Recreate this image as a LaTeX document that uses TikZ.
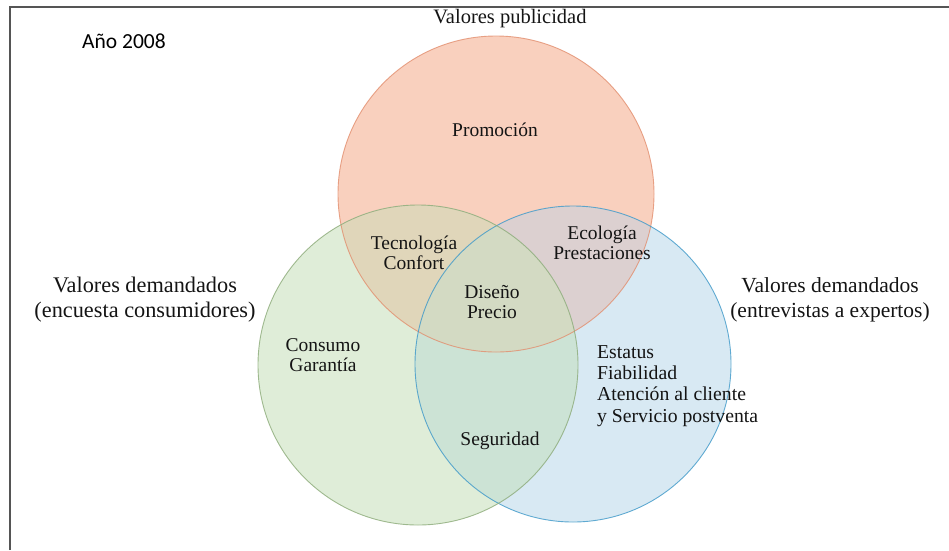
\documentclass[tikz,border=0pt]{standalone}
\usepackage{fontspec}
\setmainfont{Liberation Serif}
\newfontfamily\calibri{Carlito}
\definecolor{redonly}{HTML}{F9D0BE}
\definecolor{greenonly}{HTML}{DFEDD8}
\definecolor{blueonly}{HTML}{D8E9F3}
\definecolor{rgcol}{HTML}{E0D6BA}
\definecolor{rbcol}{HTML}{DCD0D0}
\definecolor{gbcol}{HTML}{CCE3D5}
\definecolor{rgbcol}{HTML}{D3DAC3}
\definecolor{redline}{HTML}{E28E6E}
\definecolor{greenline}{HTML}{8BAA78}
\definecolor{blueline}{HTML}{3D98C8}
\definecolor{framecol}{HTML}{555555}
\begin{document}
\begin{tikzpicture}[x=1pt,y=-1pt,
  lbl/.style={inner sep=0pt, align=center, text=black!92, font={\fontsize{19.5}{20.5}\selectfont}},
  biglbl/.style={inner sep=0pt, align=center, text=black!92, font={\fontsize{21.5}{25}\selectfont}},
  ring/.style={line width=0.9pt}]
\useasboundingbox (0,0) rectangle (949,550);
\coordinate (R) at (496,194);
\coordinate (G) at (418,365);
\coordinate (B) at (573,364);
\def\rr{158pt}\def\rg{160pt}\def\rb{158pt}
% fills
\fill[redonly] (R) circle[radius=\rr];
\fill[greenonly] (G) circle[radius=\rg];
\fill[blueonly] (B) circle[radius=\rb];
\begin{scope}\clip (R) circle[radius=\rr]; \fill[rgcol] (G) circle[radius=\rg];\end{scope}
\begin{scope}\clip (R) circle[radius=\rr]; \fill[rbcol] (B) circle[radius=\rb];\end{scope}
\begin{scope}\clip (G) circle[radius=\rg]; \fill[gbcol] (B) circle[radius=\rb];\end{scope}
\begin{scope}\clip (R) circle[radius=\rr]; \clip (G) circle[radius=\rg]; \fill[rgbcol] (B) circle[radius=\rb];\end{scope}
% outlines
\draw[ring, redline, opacity=0.8] (R) circle[radius=\rr];
\draw[ring, blueline, opacity=0.8] (B) circle[radius=\rb];
\draw[ring, greenline, opacity=0.8] (G) circle[radius=\rg];
% frame
\coordinate (f1) at (10,550);
\coordinate (f2) at (10,7);
\coordinate (f3) at (949,7);
\draw[framecol, line width=1.3pt] (f1) -- (f2) -- (f3);
% texts
\node[inner sep=0pt, font={\calibri\fontsize{21.5}{24}\selectfont}] (year) at (124,41) {Año 2008};
\node[biglbl, font={\fontsize{20.5}{25}\selectfont}] (pub) at (510,19) {Valores publicidad};
\node[biglbl, font={\fontsize{22.3}{25}\selectfont}] (cons) at (145,300) {Valores demandados\\(encuesta consumidores)};
\node[biglbl] (exp) at (830,300) {Valores demandados\\(entrevistas a expertos)};
\node[lbl] (promo) at (495,130) {Promoción};
\node[lbl] (tec) at (414,253) {Tecnología\\Confort};
\node[lbl] (eco) at (602,243) {Ecología\\Prestaciones};
\node[lbl] (dis) at (492,302) {Diseño\\Precio};
\node[lbl] (consumo) at (323,355) {Consumo\\Garantía};
\node[lbl] (seg) at (500,441) {Seguridad};
\node[lbl, align=left, anchor=west, font={\fontsize{19.7}{21.2}\selectfont}] (est) at (597,386) {Estatus\\Fiabilidad\\Atención al cliente\\y Servicio postventa};
\end{tikzpicture}
\end{document}
